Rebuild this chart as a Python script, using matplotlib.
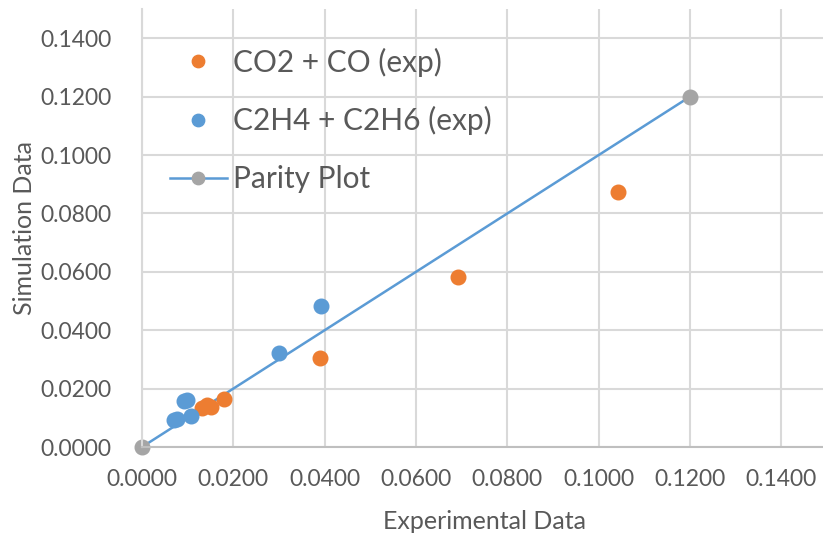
import matplotlib.pyplot as plt

plt.rcParams['font.family'] = ['Lato', 'DejaVu Sans']

# data
co_x = [0.0389, 0.0692, 0.1042, 0.0180, 0.0143, 0.0152, 0.0132]
co_y = [0.0304, 0.0581, 0.0875, 0.0164, 0.0144, 0.0137, 0.0133]

c2_x = [0.0391, 0.0301, 0.0092, 0.0099, 0.0070, 0.0077, 0.0108]
c2_y = [0.0482, 0.0321, 0.0157, 0.0162, 0.0092, 0.0097, 0.0106]

parity_x = [0.0, 0.12]
parity_y = [0.0, 0.12]

ticks = [0.0, 0.02, 0.04, 0.06, 0.08, 0.10, 0.12, 0.14]

fig = plt.figure(figsize=(8.23, 5.40), dpi=100)
ax = fig.add_axes([0.1725, 0.1722, 0.8325, 0.8111])

grid_col = "#d9d9d9"
text_col = "#595959"

ax.plot(parity_x, parity_y, "-o", color="#5b9bd5", lw=1.8, markersize=10.5,
        markerfacecolor="#a5a5a5", markeredgecolor="#a5a5a5", label="Parity Plot",
        zorder=2, clip_on=False)
ax.plot(co_x, co_y, "o", color="#ed7d31", markersize=10.5, label="CO2 + CO (exp)", zorder=3)
ax.plot(c2_x, c2_y, "o", color="#5b9bd5", markersize=10.5, label="C2H4 + C2H6 (exp)", zorder=3)

ax.set_xlim(0, 0.15)
ax.set_ylim(0, 0.15)
ax.set_xticks(ticks)
ax.set_yticks(ticks)
ax.set_xticklabels(["%.4f" % t for t in ticks])
ax.set_yticklabels(["%.4f" % t for t in ticks])
ax.grid(True, color=grid_col, lw=1.5)
ax.set_axisbelow(True)
for s in ["top", "right"]:
    ax.spines[s].set_visible(False)
ax.spines["left"].set_color(grid_col)
ax.spines["left"].set_linewidth(1.5)
ax.spines["bottom"].set_color("#bfbfbf")
ax.spines["bottom"].set_linewidth(1.5)
ax.tick_params(axis="both", length=0, labelsize=16.5, colors=text_col)
ax.tick_params(axis="x", pad=16)
ax.tick_params(axis="y", pad=22)

ax.set_xlabel("Experimental Data", fontsize=18, color=text_col, labelpad=14)
ax.set_ylabel("Simulation Data", fontsize=18, color=text_col, labelpad=3)

h, l = ax.get_legend_handles_labels()
order = [1, 2, 0]
leg = fig.legend([h[i] for i in order], [l[i] for i in order], loc="upper left",
                 bbox_to_anchor=(0.174, 0.962), frameon=False, fontsize=21.5,
                 labelcolor=text_col, handlelength=1.9, handletextpad=0.2,
                 labelspacing=1.0, markerscale=0.85)

fig.savefig("out.png", dpi=100)
